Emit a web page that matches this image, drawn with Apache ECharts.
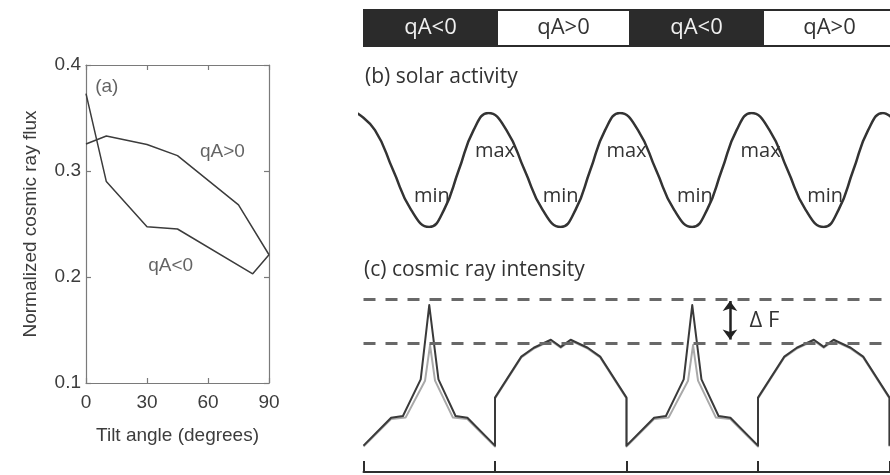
<!DOCTYPE html>
<html>
<head>
<meta charset="utf-8">
<script src="https://cdn.jsdelivr.net/npm/echarts@6/dist/echarts.min.js"></script>
<style>
html,body{margin:0;padding:0;background:#fff;}
#chart{width:890px;height:475px;}
</style>
</head>
<body>
<div id="chart"></div>
<script>
// ---- Panel (a): normalized cosmic ray flux vs tilt angle ----
const tiltPos = [0, 10, 30, 45, 75, 90];
const fluxPos = [0.3255, 0.333, 0.325, 0.3145, 0.268, 0.221];
const tiltNeg = [0, 10, 30, 45, 82, 90];
const fluxNeg = [0.373, 0.290, 0.2475, 0.2453, 0.203, 0.221];
const tiltTicks = [0, 30, 60, 90];
const fluxTicks = [0.1, 0.2, 0.3, 0.4];
const annotationsA = [['(a)', 10.2, 0.379], ['qA>0', 67.1, 0.318], ['qA<0', 41.6, 0.2104]];

// ---- Polarity bar ----
const polarityLabels = ['qA<0', 'qA>0', 'qA<0', 'qA>0'];
const polarityEdges = [0, 1, 2, 3, 4];

// ---- Panel (b): solar activity (time in polarity periods) ----
const solarTime = [-0.05, 0.0875, 0.225, 0.3625, 0.5, 0.6125, 0.725, 0.8375,
  0.95, 1.0875, 1.225, 1.3625, 1.5, 1.6125, 1.725, 1.8375,
  1.95, 2.0875, 2.225, 2.3625, 2.5, 2.6125, 2.725, 2.8375,
  2.95, 3.0875, 3.225, 3.3625, 3.5, 3.6125, 3.725, 3.8375, 3.95, 4.0875];
const solarLevel = [1, 0.85, 0.5, 0.15, 0, 0.15, 0.5, 0.85,
  1, 0.85, 0.5, 0.15, 0, 0.15, 0.5, 0.85,
  1, 0.85, 0.5, 0.15, 0, 0.15, 0.5, 0.85,
  1, 0.85, 0.5, 0.15, 0, 0.15, 0.5, 0.85, 1, 0.85];
const maxLabels = [[1.0, 0.66], [2.0, 0.66], [3.02, 0.66]];
const minLabels = [[0.52, 0.27], [1.5, 0.27], [2.52, 0.27], [3.51, 0.27]];

// ---- Panel (c): cosmic ray intensity ----
const cosmicTime = [0, 0.21, 0.30, 0.435, 0.5, 0.57, 0.70, 0.79, 1.0,
  1.0, 1.2, 1.295, 1.425, 1.5, 1.575, 1.705, 1.8, 2.0,
  2.0, 2.21, 2.30, 2.435, 2.5, 2.57, 2.70, 2.79, 3.0,
  3.0, 3.2, 3.295, 3.425, 3.5, 3.575, 3.705, 3.8, 4.0, 4.0];
const cosmicDark = [0.215, 0.2464, 0.2483, 0.2895, 0.373, 0.2895, 0.2483, 0.2464, 0.215,
  0.269, 0.315, 0.325, 0.334, 0.326, 0.334, 0.325, 0.315, 0.269,
  0.215, 0.2464, 0.2483, 0.2895, 0.373, 0.2895, 0.2483, 0.2464, 0.215,
  0.269, 0.315, 0.325, 0.334, 0.326, 0.334, 0.325, 0.315, 0.269, 0.215];
const greyTime = [0, 0.21, 0.32, 0.468, 0.506, 0.544, 0.68, 0.79, 1.0,
  1.0, 1.2, 1.295, 1.425, 1.5, 1.575, 1.705, 1.8, 2.0,
  2.0, 2.21, 2.32, 2.468, 2.506, 2.544, 2.68, 2.79, 3.0,
  3.0, 3.2, 3.295, 3.425, 3.5, 3.575, 3.705, 3.8, 4.0, 4.0];
const cosmicGrey = [0.214, 0.245, 0.2465, 0.288, 0.328, 0.288, 0.2465, 0.245, 0.214,
  0.268, 0.314, 0.324, 0.333, 0.325, 0.333, 0.324, 0.314, 0.268,
  0.214, 0.245, 0.2465, 0.288, 0.328, 0.288, 0.2465, 0.245, 0.214,
  0.268, 0.314, 0.324, 0.333, 0.325, 0.333, 0.324, 0.314, 0.268, 0.214];
const peakLevels = [0.3775, 0.3342];
const deltaFTime = 2.787;

const zip = (a, b) => a.map((v, i) => [v, b[i]]);
const AR = 'Liberation Sans, Arial, sans-serif';
const OS = 'Open Sans, sans-serif';
const frameColor = '#7a7a7a';
const inkA = '#3c3c3c';
const ink = '#333';

const hiddenAxis = (grid, min, max) => ({
  type: 'value', gridIndex: grid, min: min, max: max, show: false,
  splitLine: { show: false }
});
const frameLine = { show: true, onZero: false, lineStyle: { color: frameColor, width: 1.2 } };
const frameTick = { show: true, inside: true, length: 5, lineStyle: { color: frameColor, width: 1.2 } };

const chart = echarts.init(document.getElementById('chart'), null, { renderer: 'canvas' });

const option = {
  animation: false,
  backgroundColor: '#fff',
  title: [
    { text: '(b) solar activity', left: 365, top: 67, padding: 0,
      textStyle: { fontFamily: OS, fontSize: 21, fontWeight: 'normal', color: ink } },
    { text: '(c) cosmic ray intensity', left: 364, top: 260, padding: 0,
      textStyle: { fontFamily: OS, fontSize: 21, fontWeight: 'normal', color: ink } }
  ],
  grid: [
    { left: 86, top: 65, width: 183, height: 318, containLabel: false, outerBoundsMode: 'none' },
    { left: 364, top: 10, width: 532, height: 36, containLabel: false, outerBoundsMode: 'none' },
    { left: 359.5, top: 113, width: 530, height: 114, containLabel: false, outerBoundsMode: 'none' },
    { left: 363.5, top: 281, width: 526, height: 178, containLabel: false, outerBoundsMode: 'none' },
    { left: 363.5, top: 462, width: 526, height: 10, containLabel: false, outerBoundsMode: 'none' }
  ],
  xAxis: [
    { type: 'value', gridIndex: 0, min: tiltTicks[0], max: tiltTicks[tiltTicks.length - 1],
      interval: tiltTicks[1] - tiltTicks[0], position: 'bottom',
      axisLine: frameLine, axisTick: frameTick,
      axisLabel: { show: true, color: inkA, fontFamily: AR, fontSize: 19, margin: 10,
        showMinLabel: true, showMaxLabel: true, formatter: v => String(v) },
      splitLine: { show: false },
      name: 'Tilt angle (degrees)', nameLocation: 'middle', nameGap: 43,
      nameTextStyle: { color: inkA, fontFamily: AR, fontSize: 19 } },
    { type: 'value', gridIndex: 0, min: tiltTicks[0], max: tiltTicks[tiltTicks.length - 1],
      interval: tiltTicks[1] - tiltTicks[0], position: 'top',
      axisLine: frameLine, axisTick: frameTick,
      axisLabel: { show: false }, splitLine: { show: false } },
    hiddenAxis(1, polarityEdges[0], polarityEdges[polarityEdges.length - 1]),
    hiddenAxis(2, -0.03, 4.0),
    hiddenAxis(3, 0, 4),
    { type: 'value', gridIndex: 4, min: 0, max: 4, interval: 1, position: 'bottom',
      axisLine: { show: true, onZero: false, lineStyle: { color: '#2e2e2e', width: 2 } },
      axisTick: { show: true, inside: true, length: 11, lineStyle: { color: '#2e2e2e', width: 2 } },
      axisLabel: { show: false }, splitLine: { show: false } }
  ],
  yAxis: [
    { type: 'value', gridIndex: 0, min: fluxTicks[0], max: fluxTicks[fluxTicks.length - 1],
      interval: 0.1, position: 'left',
      axisLine: frameLine, axisTick: frameTick,
      axisLabel: { show: true, color: inkA, fontFamily: AR, fontSize: 19, margin: 5,
        showMinLabel: true, showMaxLabel: true, formatter: v => v.toFixed(1) },
      splitLine: { show: false },
      name: 'Normalized cosmic ray flux', nameLocation: 'middle', nameGap: 46, nameRotate: 90,
      nameTextStyle: { color: inkA, fontFamily: AR, fontSize: 19 } },
    { type: 'value', gridIndex: 0, min: fluxTicks[0], max: fluxTicks[fluxTicks.length - 1],
      interval: 0.1, position: 'right',
      axisLine: frameLine, axisTick: frameTick,
      axisLabel: { show: false }, splitLine: { show: false } },
    hiddenAxis(1, 0, 1),
    hiddenAxis(2, 0, 1),
    hiddenAxis(3, 0.2, 0.4),
    hiddenAxis(4, 0, 1)
  ],
  series: [
    { type: 'line', xAxisIndex: 0, yAxisIndex: 0, data: zip(tiltPos, fluxPos),
      symbol: 'none', lineStyle: { color: inkA, width: 1.5 } },
    { type: 'line', xAxisIndex: 0, yAxisIndex: 0, data: zip(tiltNeg, fluxNeg),
      symbol: 'none', lineStyle: { color: inkA, width: 1.5 } },
    { type: 'scatter', xAxisIndex: 0, yAxisIndex: 0, symbolSize: 0,
      data: annotationsA.map(a => [a[1], a[2], a[0]]),
      label: { show: true, position: 'inside', formatter: p => p.data[2],
        color: inkA, fontFamily: AR, fontSize: 19 } },
    { type: 'custom', xAxisIndex: 2, yAxisIndex: 2,
      data: polarityLabels.map((l, i) => [polarityEdges[i], polarityEdges[i + 1]]),
      encode: { x: [0, 1] },
      renderItem: function (params, api) {
        const i = params.dataIndex;
        const p0 = api.coord([api.value(0), 1]);
        const p1 = api.coord([api.value(1), 0]);
        const neg = polarityLabels[i] === 'qA<0';
        return { type: 'group', children: [
          { type: 'rect', shape: { x: p0[0], y: p0[1], width: p1[0] - p0[0], height: p1[1] - p0[1] },
            style: { fill: neg ? '#2b2b2b' : '#fff', stroke: '#2b2b2b', lineWidth: 2 } },
          { type: 'text', x: (p0[0] + p1[0]) / 2, y: (p0[1] + p1[1]) / 2,
            style: { text: polarityLabels[i], fill: neg ? '#f0f0f0' : ink,
              font: '22px "Open Sans"', align: 'center', verticalAlign: 'middle' } }
        ] };
      } },
    { type: 'line', xAxisIndex: 3, yAxisIndex: 3, data: zip(solarTime, solarLevel),
      symbol: 'none', smooth: true, clip: true,
      lineStyle: { color: ink, width: 2.5 },
      markPoint: { symbol: 'circle', symbolSize: 0, silent: true,
        label: { show: true, position: 'inside', color: ink, fontFamily: OS, fontSize: 20 },
        data: maxLabels.map(c => ({ coord: c, value: 'max', label: { formatter: 'max' } }))
          .concat(minLabels.map(c => ({ coord: c, value: 'min', label: { formatter: 'min' } }))) } },
    { type: 'line', xAxisIndex: 4, yAxisIndex: 4, data: zip(greyTime, cosmicGrey),
      symbol: 'none', lineStyle: { color: '#a9a9a9', width: 2, join: 'round' } },
    { type: 'line', xAxisIndex: 4, yAxisIndex: 4, data: zip(cosmicTime, cosmicDark),
      symbol: 'none', lineStyle: { color: '#3a3a3a', width: 2, join: 'round' },
      markLine: { silent: true, symbol: 'none', label: { show: false },
        lineStyle: { type: [12, 10], color: '#686868', width: 3 },
        data: peakLevels.map(v => ({ yAxis: v })) } },
    { type: 'line', xAxisIndex: 4, yAxisIndex: 4, data: [],
      markLine: { silent: true, symbol: ['arrow', 'arrow'], symbolSize: [11, 10], label: { show: false },
        lineStyle: { type: 'solid', color: '#222', width: 2.5 },
        data: [[{ coord: [deltaFTime, peakLevels[0]] }, { coord: [deltaFTime, peakLevels[1]] }]] },
      markPoint: { symbol: 'circle', symbolSize: 1, itemStyle: { color: 'rgba(0,0,0,0)' }, silent: true,
        label: { show: true, position: 'right', distance: 19, formatter: 'Δ F',
          color: ink, fontFamily: OS, fontSize: 22 },
        data: [{ coord: [deltaFTime, (peakLevels[0] + peakLevels[1]) / 2] }] } },
    { type: 'line', xAxisIndex: 5, yAxisIndex: 5, data: [] }
  ]
};
chart.setOption(option);
</script>
</body>
</html>
